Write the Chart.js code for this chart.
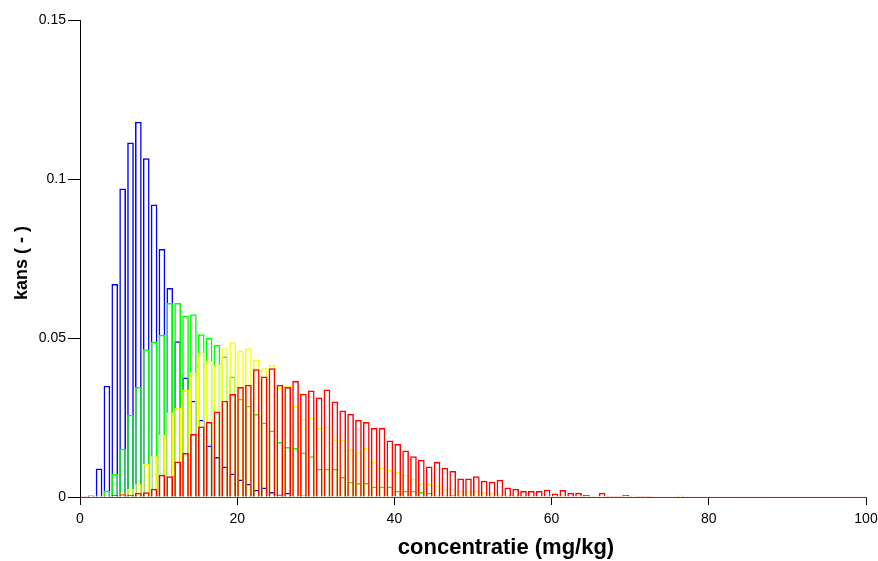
<!DOCTYPE html>
<html><head><meta charset="utf-8">
<script src="https://cdn.jsdelivr.net/npm/chart.js@4.4.1/dist/chart.umd.min.js"></script>
<style>html,body{margin:0;padding:0;background:#fff}canvas{display:block}</style>
</head><body>
<canvas id="c" width="878" height="561"></canvas>
<script>
// bin start values (mg/kg), bins of width 1
const binStart = [0,1,2,3,4,5,6,7,8,9,10,11,12,13,14,15,16,17,18,19,20,21,22,23,24,25,26,27,28,29,30,31,32,33,34,35,36,37,38,39,40,41,42,43,44,45,46,47,48,49,50,51,52,53,54,55,56,57,58,59,60,61,62,63,64,65,66,67,68,69,70,71,72,73,74,75,76,77,78,79,80,81,82,83,84,85,86,87,88,89,90,91,92,93,94,95,96,97,98,99];

const blue = [0,0.0004,0.009,0.035,0.067,0.097,0.1115,0.118,0.1065,0.092,
  0.078,0.0657,0.049,0.0376,0.0303,0.0243,0.0162,0.0126,0.0096,0.0074,
  0.0055,0.0042,0.0023,0.003,0.0016,0.0008,0.0013,0.0002,0.0005,0.0004,
  0.0002,0.0002,0.0001,0.0002,0.0001,0.0001,0.0002,0.0001,0.0001,0.0001,
  0.0001,0.0001,0.0001,0.0001,0.0001,0.0001,0.0001,0.0001,0.0001,0.0001,
  0.0001,0.0002,0.0002,0.0001,0.0002,0.0002,0.0001,0,0,0,
  0,0,0,0,0,0,0,0,0,0,0,0,0,0,0,0,0,0,0,0,0,0,0,0,0,0,0,0,0,0,0,0,0,0,0,0,0,0,0,0];

const green = [0,0,0.0005,0.002,0.0072,0.0152,0.0259,0.0346,0.0465,0.0489,
  0.051,0.061,0.061,0.0571,0.0575,0.0512,0.050,0.0478,0.0442,0.0379,
  0.0309,0.0287,0.0261,0.0234,0.0209,0.0173,0.0157,0.0154,0.014,0.0128,
  0.0089,0.0089,0.0089,0.0063,0.0048,0.0044,0.0044,0.0033,0.0033,0.0033,
  0.002,0.002,0.002,0.0016,0.0013,0.0005,0.0005,0.0007,0.0002,0.0002,
  0.0002,0.0002,0.0002,0.0002,0.0002,0.0002,0.0001,0.0001,0,0,
  0,0,0,0,0,0,0,0,0,0,0,0,0,0,0,0,0,0,0,0,0,0,0,0,0,0,0,0,0,0,0,0,0,0,0,0,0,0,0,0];

const yellow = [0,0,0,0,0,0.001,0.0026,0.004,0.0104,0.0128,
  0.0196,0.0266,0.028,0.0337,0.039,0.0454,0.0428,0.0416,0.0468,0.0487,
  0.0461,0.0468,0.0431,0.0405,0.0416,0.0343,0.0349,0.0287,0.0246,0.0251,
  0.0217,0.0222,0.018,0.018,0.0149,0.0141,0.0154,0.011,0.0092,0.0086,
  0.0079,0.007,0.0057,0.0044,0.0042,0.0036,0.0026,0.0026,0.002,0.0018,
  0.002,0.0015,0.0013,0.0008,0.0007,0.0007,0.0006,0.0005,0.0004,0.0004,
  0.0003,0.0003,0.0002,0.0002,0.0002,0.0002,0.0003,0.0002,0.0002,0.0002,
  0.0002,0.0002,0.0002,0,0,0,0.0003,0,0,0,
  0,0,0,0,0,0,0,0,0,0,0,0,0,0,0,0,0,0,0,0];

const red = [0.0003,0.0005,0.0002,0.0004,0.0006,0.0009,0.0007,0.0013,0.0015,0.0026,
  0.007,0.0065,0.0112,0.0138,0.0198,0.0222,0.0236,0.0269,0.0303,0.0324,
  0.0346,0.0353,0.0402,0.0379,0.0405,0.0353,0.0346,0.0365,0.0325,0.0335,
  0.0313,0.0338,0.030,0.0272,0.0262,0.0243,0.0236,0.0217,0.0217,0.0178,
  0.0167,0.0146,0.0128,0.0117,0.0096,0.011,0.0092,0.0082,0.0058,0.0058,
  0.0065,0.0051,0.0048,0.0054,0.003,0.0026,0.0019,0.0019,0.0019,0.0023,
  0.0011,0.0022,0.0013,0.0013,0.0006,0.0002,0.0013,0.0003,0.0003,0.0006,
  0.0004,0.0003,0.0003,0.0001,0.0001,0.0001,0.0004,0.0001,0.0001,0.0001,
  0.0001,0.0001,0.0001,0.0001,0.0001,0.0001,0.0001,0.0001,0.0001,0.0001,
  0.0001,0.0001,0.0001,0.0001,0.0001,0.0001,0.0001,0.0001,0.0001,0.0001];

const xTickValues = [0,20,40,60,80,100];
const xTickLabels = ['0','20','40','60','80','100'];
const yTickLabels = ['0','0.05','0.1','0.15'];
const xTitle = 'concentratie (mg/kg)';
const yTitle = 'kans ( - )';

const FONT = "'Liberation Sans', Arial, Helvetica, sans-serif";
const BIN_CENTER = 0.425;

function toPoints(arr) {
  return arr.map((v, i) => ({ x: binStart[i] + BIN_CENTER, y: v }));
}
function ds(label, arr, color) {
  return {
    label: label, data: toPoints(arr),
    borderColor: color, backgroundColor: 'rgba(0,0,0,0)', borderWidth: 1.5
  };
}

// axis titles drawn as real canvas text at the reference's positions
const axisTitles = {
  id: 'axisTitles',
  afterDraw(chart) {
    const ctx = chart.ctx;
    ctx.save();
    ctx.fillStyle = '#000';
    ctx.font = "bold 22px " + FONT;
    ctx.textAlign = 'center';
    ctx.textBaseline = 'alphabetic';
    ctx.fillText(xTitle, 506, 554);
    ctx.translate(27, 263);
    ctx.rotate(-Math.PI / 2);
    ctx.font = "bold 18px " + FONT;
    ctx.fillText(yTitle, 0, 0);
    ctx.restore();
  }
};

new Chart(document.getElementById('c'), {
  type: 'bar',
  data: {
    datasets: [
      ds('rood', red, '#ff0000'),
      ds('geel', yellow, '#ffff00'),
      ds('groen', green, '#00ff00'),
      ds('blauw', blue, '#0000ff')
    ]
  },
  plugins: [axisTitles],
  options: {
    responsive: false,
    animation: false,
    events: [],
    layout: { padding: { left: 0, top: 20, right: 12, bottom: 0 } },
    plugins: { legend: { display: false }, tooltip: { enabled: false } },
    datasets: { bar: { grouped: false, categoryPercentage: 1, barPercentage: 0.85 } },
    scales: {
      x: {
        type: 'linear', min: 0, max: 100, offset: false,
        grid: { display: true, drawOnChartArea: false, drawTicks: true, tickLength: 8, color: '#000', offset: false },
        border: { display: true, color: '#ff0000', width: 1 },
        ticks: {
          stepSize: 20, color: '#000', padding: 6, maxRotation: 0, autoSkip: false,
          font: { family: FONT, size: 14 },
          callback: (v) => { const i = xTickValues.indexOf(v); return i >= 0 ? xTickLabels[i] : ''; }
        },
        title: { display: false },
        afterFit: (s) => { s.height = 64; s.paddingLeft = 0; s.paddingRight = 0; }
      },
      y: {
        type: 'linear', min: 0, max: 0.15,
        grid: { display: true, drawOnChartArea: false, drawTicks: true, tickLength: 12, color: '#000' },
        border: { display: true, color: '#000', width: 1 },
        ticks: {
          stepSize: 0.05, color: '#000', padding: 2, autoSkip: false,
          font: { family: FONT, size: 14 },
          callback: (v, i) => yTickLabels[i]
        },
        title: { display: false },
        afterFit: (s) => { s.width = 80; s.paddingTop = 0; s.paddingBottom = 0; }
      }
    }
  }
});
</script>
</body></html>
